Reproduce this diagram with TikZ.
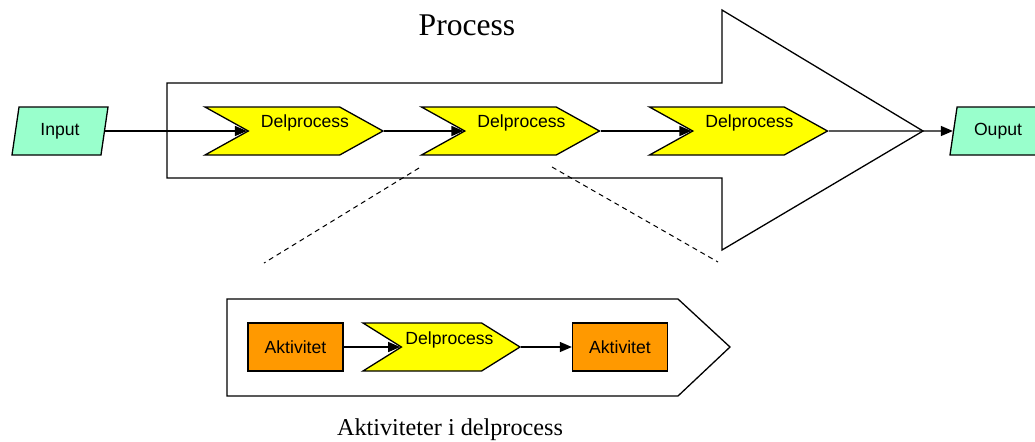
\documentclass[tikz,border=0pt]{standalone}
\usepackage{fontspec}
\setmainfont{Liberation Serif}
\newfontfamily\boxfont{Liberation Sans}
\usetikzlibrary{shapes.geometric, shapes.symbols, arrows.meta}

\definecolor{iogreen}{HTML}{99FFCC}
\definecolor{actorange}{HTML}{FF9900}
\definecolor{procyellow}{HTML}{FFFF00}

\begin{document}
\begin{tikzpicture}[x=0.5pt, y=-0.5pt, line width=0.65pt,
    font=\boxfont\fontsize{8.8}{10}\selectfont,
    iobox/.style={draw, fill=iogreen, trapezium, trapezium left angle=66, trapezium right angle=114,
      trapezium stretches body, minimum width=48pt, minimum height=24pt, inner sep=0pt},
    delproc/.style={draw, fill=procyellow, signal, signal to=east, signal from=west,
      signal pointer angle=58, minimum width=89pt, minimum height=24pt, inner sep=0pt},
    activity/.style={draw, fill=actorange, minimum width=47.5pt, minimum height=24pt, inner sep=0pt},
    flow/.style={-{Triangle[length=6pt, width=5pt]}},
    zoomline/.style={line width=0.5pt, dash pattern=on 2.5pt off 2pt}]
    \useasboundingbox (0,0) rectangle (1035,441);

    % big process arrow and sub-process frame
    \draw (167,83) -- (722,83) -- (722,10) -- (923,131) -- (722,250) -- (722,178) -- (167,178) -- cycle;
    \draw (227,299) -- (678,299) -- (730,347) -- (678,396) -- (227,396) -- cycle;

    \node[font=\rmfamily\fontsize{15.8}{18}\selectfont]  (title)    at (467, 25)   {Process};
    \node[font=\rmfamily\fontsize{12.1}{14}\selectfont]  (subtitle) at (450,430)   {Aktiviteter i delprocess};

    \node[iobox]     (in)   at (  60,131)  {Input};
    \node[delproc, label={[xshift=5.5pt, yshift=4pt]center:Delprocess}]  (d1)  at (294,131)  {};
    \node[delproc, label={[xshift=5.5pt, yshift=4pt]center:Delprocess}]  (d2)  at (510.5,131)  {};
    \node[delproc, label={[xshift=5.5pt, yshift=4pt]center:Delprocess}]  (d3)  at (738.5,131)  {};
    \node[iobox]     (out)  at ( 998,131)  {Ouput};

    \node[activity]  (a1)   at (295.5,347)  {Aktivitet};
    \node[delproc, signal pointer angle=64, minimum width=78.5pt,
          label={[xshift=4pt, yshift=3.5pt]center:Delprocess}]  (d4)  at (441.5,347)  {};
    \node[activity]  (a2)   at (620,347)  {Aktivitet};

    \coordinate (zl1) at (419,168);
    \coordinate (zl2) at (264,263);
    \coordinate (zr1) at (552,167);
    \coordinate (zr2) at (718,262);

    \draw[flow] (in) -- (d1.west);
    \draw[flow] (d1.east) -- (d2.west);
    \draw[flow] (d2.east) -- (d3.west);
    \draw[flow] (d3.east) -- (out);

    \draw[flow] (a1) -- (d4.west);
    \draw[flow] (d4.east) -- (a2);

    \draw[zoomline] (zl1) -- (zl2);
    \draw[zoomline] (zr1) -- (zr2);
\end{tikzpicture}
\end{document}
